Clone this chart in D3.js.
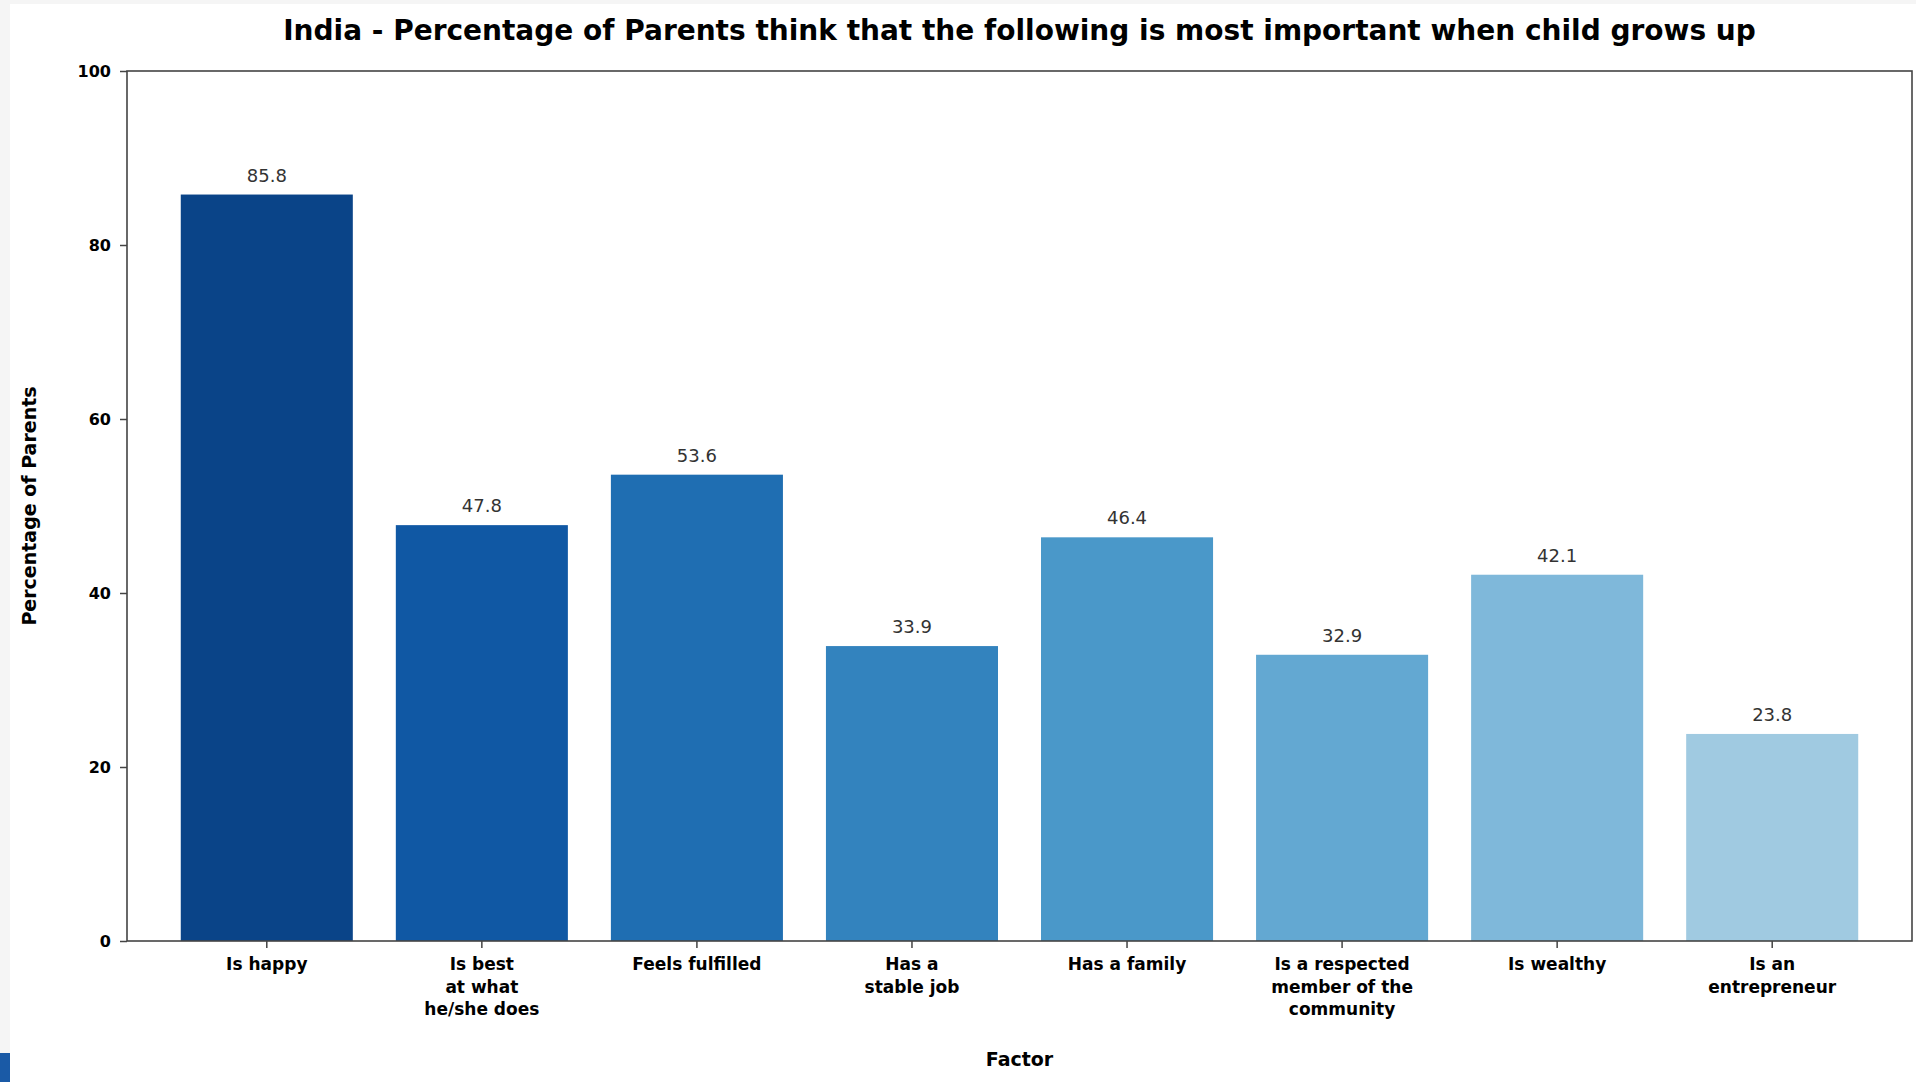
<!DOCTYPE html>
<html>
<head>
<meta charset="utf-8">
<script src="https://cdn.jsdelivr.net/npm/d3@7"></script>
<style>
  html, body { margin: 0; padding: 0; background: #ffffff; }
  svg { display: block; }
</style>
</head>
<body>
<svg id="chart" width="1916" height="1082"></svg>
<script>
// ---- data ----
const categories = [
  "Is happy",
  "Is best\nat what\nhe/she does",
  "Feels fulfilled",
  "Has a\nstable job",
  "Has a family",
  "Is a respected\nmember of the\ncommunity",
  "Is wealthy",
  "Is an\nentrepreneur"
];
const values = [85.8, 47.8, 53.6, 33.9, 46.4, 32.9, 42.1, 23.8];
const yTicks = [0, 20, 40, 60, 80, 100];
const barColors = ["#0a4488", "#1058a4", "#1f6eb2", "#3383be", "#4a98c9", "#63a8d2", "#7fb8da", "#a0cae1"];
const titleText = "India - Percentage of Parents think that the following is most important when child grows up";
const yLabelText = "Percentage of Parents";
const xLabelText = "Factor";

// ---- layout ----
const svg = d3.select("#chart");
const W = 1916, H = 1082;
const plot = { left: 127, right: 1912, top: 71, bottom: 941 };
const font = "'DejaVu Sans', sans-serif";

// page edges (screenshot frame)
svg.append("rect").attr("x", 0).attr("y", 0).attr("width", W).attr("height", H).attr("fill", "#ffffff");
svg.append("rect").attr("x", 0).attr("y", 0).attr("width", 10).attr("height", H).attr("fill", "#f5f5f5");
svg.append("rect").attr("x", 0).attr("y", 0).attr("width", W).attr("height", 4).attr("fill", "#f5f5f5");
svg.append("rect").attr("x", 0).attr("y", 1053).attr("width", 10).attr("height", 29).attr("fill", "#1a5aa6");

const x = d3.scaleBand()
  .domain(categories)
  .range([plot.left, plot.right])
  .paddingInner(0.2)
  .paddingOuter(0.25);

const y = d3.scaleLinear()
  .domain([0, 100])
  .range([plot.bottom, plot.top]);

// bars
svg.append("g").selectAll("rect")
  .data(categories)
  .join("rect")
  .attr("x", d => x(d))
  .attr("y", (d, i) => y(values[i]))
  .attr("width", x.bandwidth())
  .attr("height", (d, i) => y(0) - y(values[i]))
  .attr("fill", (d, i) => barColors[i]);

// value labels
svg.append("g").selectAll("text")
  .data(categories)
  .join("text")
  .attr("x", d => x(d) + x.bandwidth() / 2)
  .attr("y", (d, i) => y(values[i]) - 13)
  .attr("text-anchor", "middle")
  .attr("font-family", font)
  .attr("font-size", 18)
  .attr("fill", "#333333")
  .text((d, i) => values[i].toFixed(1));

// y axis
const yAxis = svg.append("g")
  .attr("transform", `translate(${plot.left},0)`)
  .call(d3.axisLeft(y).tickValues(yTicks).tickSize(7).tickPadding(9).tickFormat(d3.format("d")));
yAxis.select(".domain").remove();
yAxis.selectAll(".tick line").attr("stroke", "#444").attr("stroke-width", 1.5);
yAxis.selectAll(".tick text")
  .attr("font-family", font)
  .attr("font-size", 16)
  .attr("font-weight", "bold")
  .attr("fill", "#000");

// x axis
const xAxis = svg.append("g")
  .attr("transform", `translate(0,${plot.bottom})`)
  .call(d3.axisBottom(x).tickSize(7).tickPadding(6).tickFormat(""));
xAxis.select(".domain").remove();
xAxis.selectAll(".tick line").attr("stroke", "#444").attr("stroke-width", 1.5);

// multi-line x tick labels
const xl = svg.append("g");
categories.forEach(c => {
  const lines = c.split("\n");
  const t = xl.append("text")
    .attr("x", x(c) + x.bandwidth() / 2)
    .attr("y", plot.bottom + 29)
    .attr("text-anchor", "middle")
    .attr("font-family", font)
    .attr("font-size", 17)
    .attr("font-weight", "bold")
    .attr("fill", "#000");
  lines.forEach((ln, k) => {
    t.append("tspan")
      .attr("x", x(c) + x.bandwidth() / 2)
      .attr("dy", k === 0 ? 0 : 22.6)
      .text(ln);
  });
});

// frame (spines)
svg.append("rect")
  .attr("x", plot.left).attr("y", plot.top)
  .attr("width", plot.right - plot.left).attr("height", plot.bottom - plot.top)
  .attr("fill", "none").attr("stroke", "#444").attr("stroke-width", 1.6);

// title
svg.append("text")
  .attr("x", (plot.left + plot.right) / 2)
  .attr("y", 40)
  .attr("text-anchor", "middle")
  .attr("font-family", font)
  .attr("font-size", 28)
  .attr("font-weight", "bold")
  .attr("fill", "#000")
  .text(titleText);

// axis labels
svg.append("text")
  .attr("transform", `translate(36,${(plot.top + plot.bottom) / 2}) rotate(-90)`)
  .attr("text-anchor", "middle")
  .attr("font-family", font)
  .attr("font-size", 19)
  .attr("font-weight", "bold")
  .attr("fill", "#000")
  .text(yLabelText);

svg.append("text")
  .attr("x", (plot.left + plot.right) / 2)
  .attr("y", 1066)
  .attr("text-anchor", "middle")
  .attr("font-family", font)
  .attr("font-size", 19)
  .attr("font-weight", "bold")
  .attr("fill", "#000")
  .text(xLabelText);
</script>
</body>
</html>
